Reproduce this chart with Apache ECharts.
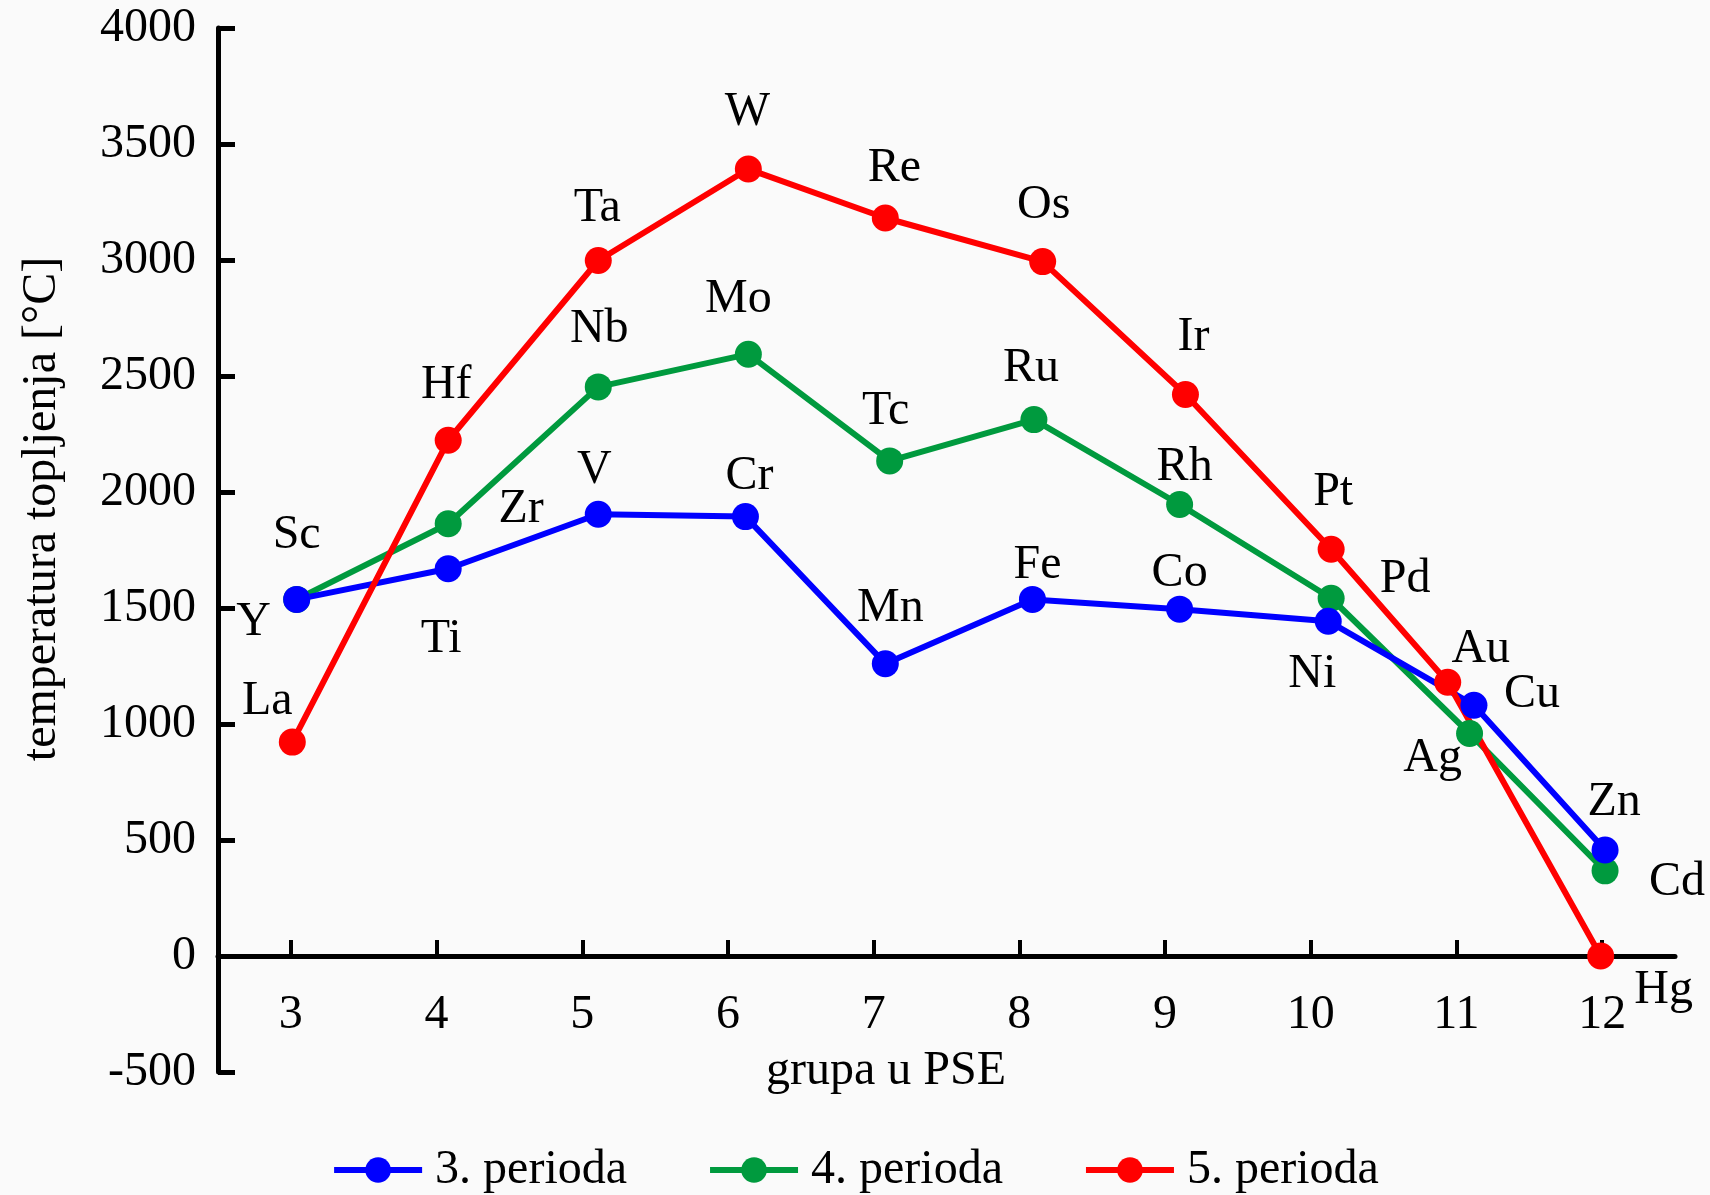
<!DOCTYPE html>
<html>
<head>
<meta charset="utf-8">
<title>Temperatura topljenja</title>
<script src="https://cdn.jsdelivr.net/npm/echarts@6/dist/echarts.min.js"></script>
<style>
  html, body { margin: 0; padding: 0; background: #fafafa; }
  #chart { width: 1710px; height: 1195px; }
</style>
</head>
<body>
<div id="chart"></div>
<script>
// x axis ticks (grupa u PSE)
const groupTicks = [3, 4, 5, 6, 7, 8, 9, 10, 11, 12];

// 3. perioda
const elements3 = ['Sc', 'Ti', 'V', 'Cr', 'Mn', 'Fe', 'Co', 'Ni', 'Cu', 'Zn'];
const groups3 = [3.04, 4.08, 5.11, 6.12, 7.08, 8.09, 9.1, 10.12, 11.12, 12.02];
const temps3 = [1537, 1669, 1904, 1894, 1260, 1537, 1495, 1443, 1081, 457];

// 4. perioda
const elements4 = ['Y', 'Zr', 'Nb', 'Mo', 'Tc', 'Ru', 'Rh', 'Pd', 'Ag', 'Cd'];
const groups4 = [3.04, 4.08, 5.11, 6.14, 7.11, 8.1, 9.1, 10.14, 11.09, 12.02];
const temps4 = [1537, 1863, 2453, 2594, 2134, 2312, 1946, 1542, 959, 367];

// 5. perioda
const elements5 = ['La', 'Hf', 'Ta', 'W', 'Re', 'Os', 'Ir', 'Pt', 'Au', 'Hg'];
const groups5 = [3.01, 4.08, 5.11, 6.14, 7.08, 8.16, 9.14, 10.14, 10.94, 11.99];
const temps5 = [922, 2223, 2998, 3392, 3181, 2993, 2420, 1753, 1180, 0];

// label placement (px, relative to the point)
const labelOffsets3 = [[0, -64], [-7, 71], [-4, -44], [4, -40], [5, -55], [5, -34], [0, -36], [-16, 53], [58, -11], [9, -48]];
const labelOffsets4 = [[-43, 23], [73, -14], [1, -58], [-10, -55], [-4, -50], [-3, -51], [5, -37], [74, -19], [-37, 25], [72, 12]];
const labelOffsets5 = [[-25, -41], [-2, -55], [-1, -52], [-1, -57], [9, -50], [1, -56], [8, -57], [2, -57], [33, -33], [63, 34]];

const FONT = '"Liberation Serif", "Times New Roman", serif';
const FONT_SIZE = 48;
const GRID_TOP = 28;
const GRID_BOTTOM = 123;
const Y_MIN = -500;
const Y_MAX = 4000;

function buildData(groups, temps, names, offsets) {
  return groups.map((g, i) => ({
    value: [g, temps[i]],
    name: names[i],
    label: { offset: offsets[i] },
  }));
}

function lineSeries(name, color, data) {
  return {
    name,
    type: 'line',
    data,
    symbol: 'circle',
    symbolSize: 27,
    itemStyle: { color },
    lineStyle: { color, width: 6 },
    label: {
      show: true,
      position: 'inside',
      formatter: (p) => p.name,
      color: '#000',
      fontFamily: FONT,
      fontSize: FONT_SIZE,
      align: 'center',
      verticalAlign: 'middle',
    },
    emphasis: { disabled: true },
  };
}

const chart = echarts.init(document.getElementById('chart'));

// x axis sits on the zero line: move it up from the grid bottom
const gridHeight = 1195 - GRID_TOP - GRID_BOTTOM;
const zeroOffset = gridHeight * (0 - Y_MIN) / (Y_MAX - Y_MIN);

chart.setOption({
  backgroundColor: '#fafafa',
  animation: false,
  textStyle: { fontFamily: FONT },
  grid: { left: 218, right: 35, top: GRID_TOP, bottom: GRID_BOTTOM },
  legend: {
    data: ['3. perioda', '4. perioda', '5. perioda'],
    bottom: -4,
    left: 'center',
    itemWidth: 88,
    itemHeight: 32,
    itemGap: 80,
    lineStyle: { width: 6 },
    textStyle: { color: '#000', fontFamily: FONT, fontSize: FONT_SIZE, padding: [0, 0, 0, 8] },
  },
  xAxis: {
    type: 'value',
    min: 2.5,
    max: 12.5,
    position: 'bottom',
    offset: -zeroOffset,
    splitLine: { show: false },
    axisLine: { onZero: false, lineStyle: { color: '#000', width: 5 } },
    axisTick: { inside: true, length: 16, customValues: groupTicks, lineStyle: { color: '#000', width: 4 } },
    axisLabel: { customValues: groupTicks, margin: 35, color: '#000', fontFamily: FONT, fontSize: FONT_SIZE },
  },
  yAxis: {
    type: 'value',
    min: Y_MIN,
    max: Y_MAX,
    interval: 500,
    splitLine: { show: false },
    axisLine: { show: true, onZero: false, lineStyle: { color: '#000', width: 5 } },
    axisTick: { show: true, inside: true, length: 17, lineStyle: { color: '#000', width: 5 } },
    axisLabel: { margin: 22, color: '#000', fontFamily: FONT, fontSize: FONT_SIZE, formatter: (v) => String(v) },
  },
  graphic: [
    {
      type: 'text',
      x: 42,
      y: 509,
      rotation: Math.PI / 2,
      style: {
        text: 'temperatura topljenja [°C]',
        fill: '#000',
        font: FONT_SIZE + 'px ' + FONT,
        textAlign: 'center',
        textVerticalAlign: 'middle',
      },
    },
    {
      type: 'text',
      x: 886,
      y: 1071,
      style: {
        text: 'grupa u PSE',
        fill: '#000',
        font: FONT_SIZE + 'px ' + FONT,
        textAlign: 'center',
        textVerticalAlign: 'middle',
      },
    },
  ],
  series: [
    lineSeries('4. perioda', '#009a3e', buildData(groups4, temps4, elements4, labelOffsets4)),
    lineSeries('3. perioda', '#0000ff', buildData(groups3, temps3, elements3, labelOffsets3)),
    lineSeries('5. perioda', '#ff0000', buildData(groups5, temps5, elements5, labelOffsets5)),
  ],
});
</script>
</body>
</html>
